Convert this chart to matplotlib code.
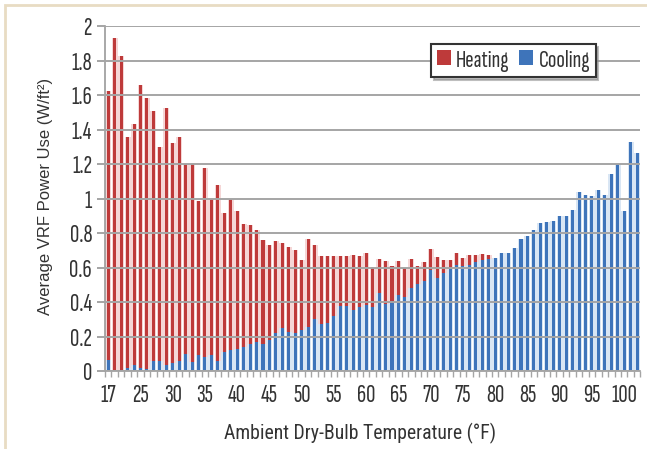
import numpy as np
import matplotlib
matplotlib.use("Agg")
import matplotlib.pyplot as plt
from matplotlib.patches import Rectangle

# ---- data ----
tick_labels = ["17", "25", "30", "35", "40", "45", "50", "55", "60", "65",
               "70", "75", "80", "85", "90", "95", "100"]

cooling = [0.065, 0.0, 0.0, 0.02, 0.035, 0.015, 0.01, 0.06, 0.06, 0.035,
           0.045, 0.06, 0.10, 0.05, 0.095, 0.08, 0.095, 0.06, 0.11, 0.12,
           0.13, 0.14, 0.155, 0.17, 0.155, 0.18, 0.22, 0.25, 0.225, 0.22,
           0.235, 0.255, 0.30, 0.275, 0.28, 0.32, 0.375, 0.375, 0.355, 0.37,
           0.385, 0.37, 0.455, 0.39, 0.405, 0.44, 0.43, 0.48, 0.505, 0.52,
           0.585, 0.54, 0.57, 0.59, 0.615, 0.61, 0.615, 0.63, 0.645, 0.65,
           0.655, 0.685, 0.685, 0.715, 0.765, 0.785, 0.815, 0.86, 0.865, 0.87,
           0.90, 0.90, 0.935, 1.04, 1.02, 1.015, 1.05, 1.02, 1.145, 1.20,
           0.93, 1.33, 1.265]

heating = [1.56, 1.93, 1.825, 1.34, 1.40, 1.645, 1.575, 1.45, 1.24, 1.49,
           1.28, 1.295, 1.10, 1.15, 0.89, 1.095, 0.905, 1.02, 0.805, 0.88,
           0.80, 0.715, 0.69, 0.65, 0.605, 0.55, 0.535, 0.495, 0.495, 0.48,
           0.41, 0.51, 0.43, 0.39, 0.385, 0.345, 0.29, 0.29, 0.32, 0.295,
           0.30, 0.235, 0.195, 0.25, 0.205, 0.20, 0.17, 0.17, 0.105, 0.11,
           0.123, 0.12, 0.075, 0.053, 0.07, 0.046, 0.055, 0.044, 0.035, 0.022,
           0.0, 0.0, 0.0, 0.0, 0.0, 0.0, 0.0, 0.0, 0.0, 0.0,
           0.0, 0.0, 0.0, 0.0, 0.0, 0.0, 0.0, 0.0, 0.0, 0.0,
           0.0, 0.0, 0.0]

# ---- style ----
TICKFONT = ["Sofia Sans Extra Condensed", "DejaVu Sans"]
XLABFONT = ["Roboto Condensed", "DejaVu Sans"]
YLABFONT = ["Liberation Sans", "DejaVu Sans"]
TXT = "#333333"
GRID = "#a5a5a5"

W, H = 647, 449
fig = plt.figure(figsize=(W / 100, H / 100), dpi=100)
ax = fig.add_axes([105 / W, 78 / H, 535.3 / W, 345.5 / H])

x = np.arange(len(cooling))
cool = np.array(cooling)
heat = np.array(heating)

# soft halo layer + solid core layer (stacked: cooling bottom, heating on top)
ax.bar(x, cool, width=0.92, color="#d9e6f4", zorder=1, linewidth=0)
ax.bar(x, heat, bottom=cool, width=0.92, color="#f5d6d6", zorder=1, linewidth=0)
b_cool = ax.bar(x, cool, width=0.47, color="#3e74ba", zorder=2, linewidth=0)
b_heat = ax.bar(x, heat, bottom=cool, width=0.47, color="#be3a3a", zorder=2, linewidth=0)

ax.set_xlim(-0.5, len(cooling) - 0.5)
ax.set_ylim(0, 2.004)

# grid (drawn over the bars)
ax.set_axisbelow(False)
ax.yaxis.grid(True, color=GRID, linewidth=1.4)
ax.xaxis.grid(False)

yt = np.round(np.arange(0, 2.01, 0.2), 1)
ax.set_yticks(yt)
ax.set_yticklabels([("%g" % v) for v in yt])
ax.tick_params(axis="y", length=5.8, width=1.4, color=GRID, pad=3.5,
               labelsize=18.5, labelcolor=TXT)

ax.set_xticks(np.arange(0, 81, 5))
ax.set_xticklabels(tick_labels)
ax.set_xticks(np.arange(-0.5, len(cooling), 1), minor=True)
ax.tick_params(axis="x", which="major", length=0, pad=9, labelsize=18.5,
               labelcolor=TXT)
ax.tick_params(axis="x", which="minor", length=4, width=1.0, color=GRID)

for lab in ax.get_xticklabels() + ax.get_yticklabels():
    lab.set_family(TICKFONT)

for s in ["top", "right"]:
    ax.spines[s].set_visible(False)
for s in ["left", "bottom"]:
    ax.spines[s].set_color("#9a9a9a")
    ax.spines[s].set_linewidth(1.2)

ax.set_xlabel("Ambient Dry-Bulb Temperature (°F)", family=XLABFONT,
              fontsize=14.2, color=TXT, va="center")
ax.xaxis.set_label_coords(0.476, -0.182)
ax.set_ylabel("Average VRF Power Use (W/ft²)", family=YLABFONT,
              fontsize=12, color=TXT, va="center")
ax.yaxis.set_label_coords(-0.112, 0.505)

leg = ax.legend(handles=[b_heat, b_cool], labels=["Heating", "Cooling"],
                ncol=2, loc="upper left",
                bbox_to_anchor=(431 / W, 1 - 44 / H),
                bbox_transform=fig.transFigure, borderaxespad=0,
                prop={"family": TICKFONT, "size": 18},
                handlelength=0.56, handleheight=0.56, handletextpad=0.22,
                columnspacing=0.38, borderpad=0.22,
                frameon=True, fancybox=False, framealpha=1,
                edgecolor="#333333", shadow={"color": "#8a8a8a", "alpha": 0.55})
leg.get_frame().set_linewidth(1.5)
for t in leg.get_texts():
    t.set_color(TXT)

# beige outer frame
fig.add_artist(Rectangle((5 / W, -0.1), 2.0, (1 - 5 / H) + 0.1,
                         transform=fig.transFigure, fill=False,
                         edgecolor="#e8dcc3", linewidth=2))

fig.savefig("out.png", dpi=100)
